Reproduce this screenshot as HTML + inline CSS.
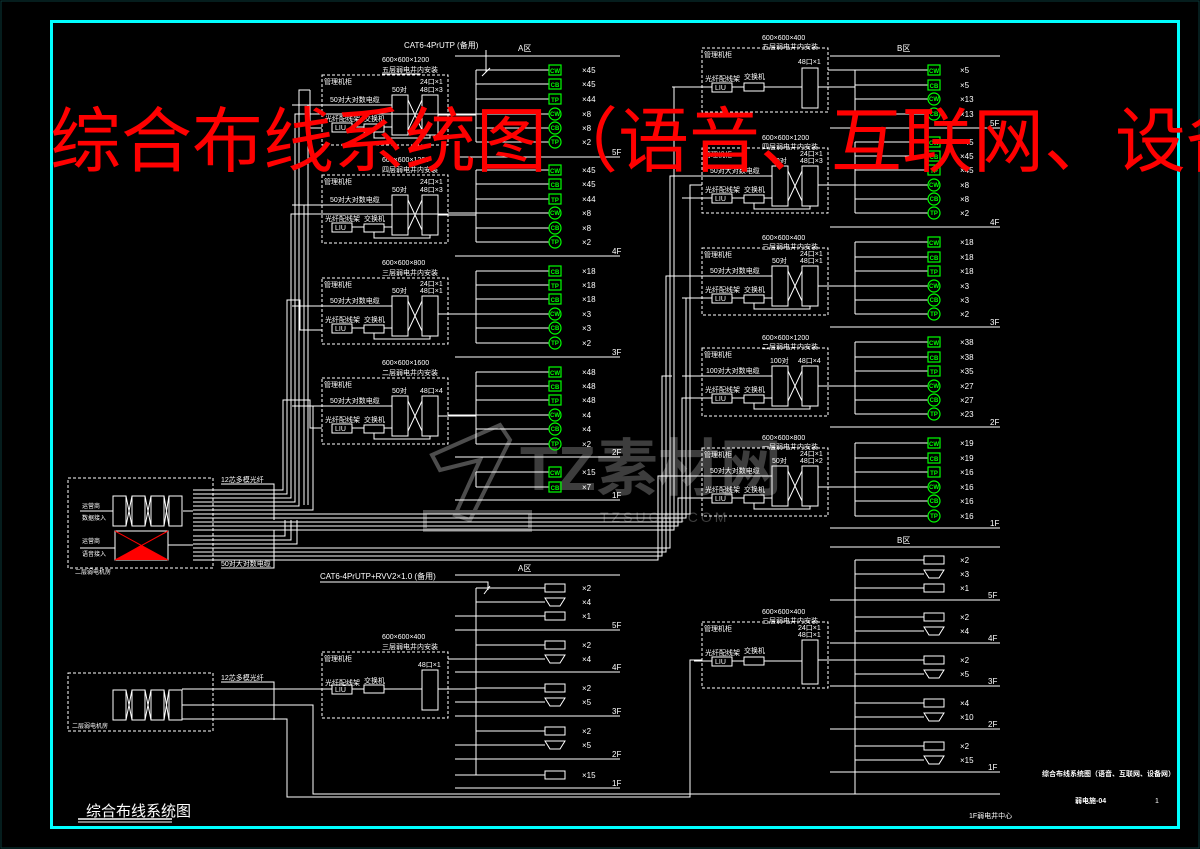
<!DOCTYPE html>
<html><head><meta charset="utf-8"><style>
html,body{margin:0;padding:0;background:#000;}
svg{display:block}
text{font-family:"Liberation Sans","Noto Sans CJK SC",sans-serif;fill:#fff;font-size:8px}
.l{stroke:#fff;stroke-width:1;fill:none}
.d{stroke:#fff;stroke-width:1;fill:none;stroke-dasharray:3 2}
.gr{stroke:#0f0;stroke-width:1.2;fill:none}
.gt{fill:#0f0;font-size:6px;font-weight:bold}
</style></head><body>
<svg width="1200" height="849" viewBox="0 0 1200 849" xmlns="http://www.w3.org/2000/svg">
<rect x="0" y="0" width="1200" height="849" fill="#000"/>
<rect x="1" y="1" width="1198" height="847" fill="none" stroke="#0a3a3a" stroke-width="1"/>
<rect x="51.5" y="21.5" width="1127" height="806" fill="none" stroke="#0ff" stroke-width="3"/>

<!-- grey watermark -->
<g opacity="0.45">
<path d="M432 455 L500 425 L510 440 L470 520 L455 515 L480 460 L440 470 Z" fill="none" stroke="#aaa" stroke-width="4"/>
<rect x="425" y="512" width="105" height="18" fill="none" stroke="#aaa" stroke-width="4"/>
<text x="520" y="490" style="font-size:62px;fill:#888;font-weight:bold">TZ素材网</text>
<text x="600" y="522" style="font-size:14px;fill:#888;letter-spacing:3px">TZSUCAI.COM</text>
</g>

<!-- ===== A zone top ===== -->
<text x="404" y="48">CAT6-4PrUTP (备用)</text>
<text x="518" y="51">A区</text>
<line class="l" x1="455" y1="56" x2="620" y2="56"/>
<path class="l" d="M486 50 V72 M482 76 L490 68"/>
<!-- floor lines A -->
<g class="l">
<line x1="455" y1="157" x2="620" y2="157"/><line x1="455" y1="256" x2="620" y2="256"/>
<line x1="455" y1="357" x2="620" y2="357"/><line x1="455" y1="457" x2="620" y2="457"/>
<line x1="455" y1="500" x2="620" y2="500"/>
<line x1="476" y1="70" x2="476" y2="142"/><line x1="476" y1="170" x2="476" y2="242"/>
<line x1="476" y1="271" x2="476" y2="343"/><line x1="476" y1="372" x2="476" y2="444"/>
<line x1="476" y1="472" x2="476" y2="487"/>
</g>
<text x="612" y="155">5F</text><text x="612" y="254">4F</text><text x="612" y="355">3F</text><text x="612" y="455">2F</text><text x="612" y="498">1F</text>
<g class="l">
<line x1="476" y1="70" x2="549" y2="70"/><line x1="476" y1="84" x2="549" y2="84"/><line x1="476" y1="99" x2="549" y2="99"/><line x1="455" y1="114" x2="549" y2="114"/><line x1="476" y1="128" x2="549" y2="128"/><line x1="476" y1="142" x2="549" y2="142"/>
<line x1="476" y1="170" x2="549" y2="170"/><line x1="476" y1="184" x2="549" y2="184"/><line x1="476" y1="199" x2="549" y2="199"/><line x1="448" y1="213" x2="549" y2="213"/><line x1="476" y1="228" x2="549" y2="228"/><line x1="476" y1="242" x2="549" y2="242"/>
<line x1="476" y1="271" x2="549" y2="271"/><line x1="476" y1="285" x2="549" y2="285"/><line x1="476" y1="299" x2="549" y2="299"/><line x1="448" y1="314" x2="549" y2="314"/><line x1="476" y1="328" x2="549" y2="328"/><line x1="476" y1="343" x2="549" y2="343"/>
<line x1="476" y1="372" x2="549" y2="372"/><line x1="476" y1="386" x2="549" y2="386"/><line x1="476" y1="400" x2="549" y2="400"/><line x1="448" y1="415" x2="549" y2="415"/><line x1="476" y1="429" x2="549" y2="429"/><line x1="476" y1="444" x2="549" y2="444"/>
<line x1="476" y1="472" x2="549" y2="472"/><line x1="476" y1="487" x2="549" y2="487"/>
</g>
<!-- A icons -->
<g class="gr">
<rect x="549" y="65" width="12" height="10"/><rect x="549" y="79" width="12" height="10"/><rect x="549" y="94" width="12" height="10"/><circle cx="555" cy="114" r="6"/><circle cx="555" cy="128" r="6"/><circle cx="555" cy="142" r="6"/>
<rect x="549" y="165" width="12" height="10"/><rect x="549" y="179" width="12" height="10"/><rect x="549" y="194" width="12" height="10"/><circle cx="555" cy="213" r="6"/><circle cx="555" cy="228" r="6"/><circle cx="555" cy="242" r="6"/>
<rect x="549" y="266" width="12" height="10"/><rect x="549" y="280" width="12" height="10"/><rect x="549" y="294" width="12" height="10"/><circle cx="555" cy="314" r="6"/><circle cx="555" cy="328" r="6"/><circle cx="555" cy="343" r="6"/>
<rect x="549" y="367" width="12" height="10"/><rect x="549" y="381" width="12" height="10"/><rect x="549" y="395" width="12" height="10"/><circle cx="555" cy="415" r="6"/><circle cx="555" cy="429" r="6"/><circle cx="555" cy="444" r="6"/>
<rect x="549" y="467" width="12" height="10"/><rect x="549" y="482" width="12" height="10"/>
</g>
<g class="gt" text-anchor="middle">
<text class="gt" x="555" y="73">CW</text><text class="gt" x="555" y="87">CB</text><text class="gt" x="555" y="102">TP</text><text class="gt" x="555" y="116">CW</text><text class="gt" x="555" y="130">CB</text><text class="gt" x="555" y="144">TP</text>
<text class="gt" x="555" y="173">CW</text><text class="gt" x="555" y="187">CB</text><text class="gt" x="555" y="202">TP</text><text class="gt" x="555" y="215">CW</text><text class="gt" x="555" y="230">CB</text><text class="gt" x="555" y="244">TP</text>
<text class="gt" x="555" y="274">CB</text><text class="gt" x="555" y="288">TP</text><text class="gt" x="555" y="302">CB</text><text class="gt" x="555" y="316">CW</text><text class="gt" x="555" y="330">CB</text><text class="gt" x="555" y="345">TP</text>
<text class="gt" x="555" y="375">CW</text><text class="gt" x="555" y="389">CB</text><text class="gt" x="555" y="403">TP</text><text class="gt" x="555" y="417">CW</text><text class="gt" x="555" y="431">CB</text><text class="gt" x="555" y="446">TP</text>
<text class="gt" x="555" y="475">CW</text><text class="gt" x="555" y="490">CB</text>
</g>
<g>
<text x="582" y="73">×45</text><text x="582" y="87">×45</text><text x="582" y="102">×44</text><text x="582" y="117">×8</text><text x="582" y="131">×8</text><text x="582" y="145">×2</text>
<text x="582" y="173">×45</text><text x="582" y="187">×45</text><text x="582" y="202">×44</text><text x="582" y="216">×8</text><text x="582" y="231">×8</text><text x="582" y="245">×2</text>
<text x="582" y="274">×18</text><text x="582" y="288">×18</text><text x="582" y="302">×18</text><text x="582" y="317">×3</text><text x="582" y="331">×3</text><text x="582" y="346">×2</text>
<text x="582" y="375">×48</text><text x="582" y="389">×48</text><text x="582" y="403">×48</text><text x="582" y="418">×4</text><text x="582" y="432">×4</text><text x="582" y="447">×2</text>
<text x="582" y="475">×15</text><text x="582" y="490">×7</text>
</g>

<!-- ===== B zone top ===== -->
<text x="897" y="51">B区</text>
<line class="l" x1="830" y1="56" x2="1000" y2="56"/>
<g class="l">
<line x1="830" y1="128" x2="1000" y2="128"/><line x1="830" y1="227" x2="1000" y2="227"/><line x1="830" y1="327" x2="1000" y2="327"/><line x1="830" y1="427" x2="1000" y2="427"/><line x1="830" y1="528" x2="1000" y2="528"/>
<line x1="855" y1="70" x2="855" y2="114"/><line x1="855" y1="142" x2="855" y2="213"/><line x1="855" y1="242" x2="855" y2="314"/><line x1="855" y1="342" x2="855" y2="414"/><line x1="855" y1="443" x2="855" y2="516"/>
</g>
<text x="990" y="126">5F</text><text x="990" y="225">4F</text><text x="990" y="325">3F</text><text x="990" y="425">2F</text><text x="990" y="526">1F</text>
<g class="l">
<line x1="828" y1="70" x2="928" y2="70"/><line x1="855" y1="85" x2="928" y2="85"/><line x1="855" y1="99" x2="928" y2="99"/><line x1="855" y1="114" x2="928" y2="114"/>
<line x1="855" y1="142" x2="928" y2="142"/><line x1="855" y1="156" x2="928" y2="156"/><line x1="855" y1="170" x2="928" y2="170"/><line x1="828" y1="185" x2="928" y2="185"/><line x1="855" y1="199" x2="928" y2="199"/><line x1="855" y1="213" x2="928" y2="213"/>
<line x1="855" y1="242" x2="928" y2="242"/><line x1="855" y1="257" x2="928" y2="257"/><line x1="855" y1="271" x2="928" y2="271"/><line x1="828" y1="286" x2="928" y2="286"/><line x1="855" y1="300" x2="928" y2="300"/><line x1="855" y1="314" x2="928" y2="314"/>
<line x1="855" y1="342" x2="928" y2="342"/><line x1="855" y1="357" x2="928" y2="357"/><line x1="855" y1="371" x2="928" y2="371"/><line x1="828" y1="386" x2="928" y2="386"/><line x1="855" y1="400" x2="928" y2="400"/><line x1="855" y1="414" x2="928" y2="414"/>
<line x1="855" y1="443" x2="928" y2="443"/><line x1="855" y1="458" x2="928" y2="458"/><line x1="855" y1="472" x2="928" y2="472"/><line x1="828" y1="487" x2="928" y2="487"/><line x1="855" y1="501" x2="928" y2="501"/><line x1="855" y1="516" x2="928" y2="516"/>
</g>
<g class="gr">
<rect x="928" y="65" width="12" height="10"/><rect x="928" y="80" width="12" height="10"/><circle cx="934" cy="99" r="6"/><circle cx="934" cy="114" r="6"/>
<rect x="928" y="137" width="12" height="10"/><rect x="928" y="151" width="12" height="10"/><rect x="928" y="165" width="12" height="10"/><circle cx="934" cy="185" r="6"/><circle cx="934" cy="199" r="6"/><circle cx="934" cy="213" r="6"/>
<rect x="928" y="237" width="12" height="10"/><rect x="928" y="252" width="12" height="10"/><rect x="928" y="266" width="12" height="10"/><circle cx="934" cy="286" r="6"/><circle cx="934" cy="300" r="6"/><circle cx="934" cy="314" r="6"/>
<rect x="928" y="337" width="12" height="10"/><rect x="928" y="352" width="12" height="10"/><rect x="928" y="366" width="12" height="10"/><circle cx="934" cy="386" r="6"/><circle cx="934" cy="400" r="6"/><circle cx="934" cy="414" r="6"/>
<rect x="928" y="438" width="12" height="10"/><rect x="928" y="453" width="12" height="10"/><rect x="928" y="467" width="12" height="10"/><circle cx="934" cy="487" r="6"/><circle cx="934" cy="501" r="6"/><circle cx="934" cy="516" r="6"/>
</g>
<g text-anchor="middle">
<text class="gt" x="934" y="73">CW</text><text class="gt" x="934" y="88">CB</text><text class="gt" x="934" y="101">CW</text><text class="gt" x="934" y="116">CB</text>
<text class="gt" x="934" y="145">CW</text><text class="gt" x="934" y="159">CB</text><text class="gt" x="934" y="173">TP</text><text class="gt" x="934" y="187">CW</text><text class="gt" x="934" y="201">CB</text><text class="gt" x="934" y="215">TP</text>
<text class="gt" x="934" y="245">CW</text><text class="gt" x="934" y="260">CB</text><text class="gt" x="934" y="274">TP</text><text class="gt" x="934" y="288">CW</text><text class="gt" x="934" y="302">CB</text><text class="gt" x="934" y="316">TP</text>
<text class="gt" x="934" y="345">CW</text><text class="gt" x="934" y="360">CB</text><text class="gt" x="934" y="374">TP</text><text class="gt" x="934" y="388">CW</text><text class="gt" x="934" y="402">CB</text><text class="gt" x="934" y="416">TP</text>
<text class="gt" x="934" y="446">CW</text><text class="gt" x="934" y="461">CB</text><text class="gt" x="934" y="475">TP</text><text class="gt" x="934" y="489">CW</text><text class="gt" x="934" y="503">CB</text><text class="gt" x="934" y="518">TP</text>
</g>
<g>
<text x="960" y="73">×5</text><text x="960" y="88">×5</text><text x="960" y="102">×13</text><text x="960" y="117">×13</text>
<text x="960" y="145">×45</text><text x="960" y="159">×45</text><text x="960" y="173">×45</text><text x="960" y="188">×8</text><text x="960" y="202">×8</text><text x="960" y="216">×2</text>
<text x="960" y="245">×18</text><text x="960" y="260">×18</text><text x="960" y="274">×18</text><text x="960" y="289">×3</text><text x="960" y="303">×3</text><text x="960" y="317">×2</text>
<text x="960" y="345">×38</text><text x="960" y="360">×38</text><text x="960" y="374">×35</text><text x="960" y="389">×27</text><text x="960" y="403">×27</text><text x="960" y="417">×23</text>
<text x="960" y="446">×19</text><text x="960" y="461">×19</text><text x="960" y="475">×16</text><text x="960" y="490">×16</text><text x="960" y="504">×16</text><text x="960" y="519">×16</text>
</g>

<!-- ===== Cabinets (A column x=322) ===== -->
<g id="cabs">
<!-- template drawn per cabinet -->
<g transform="translate(322,75)">
<rect class="d" x="0" y="0" width="126" height="70"/>
<text x="2" y="9" style="font-size:7px">管理机柜</text>
<text x="8" y="27" style="font-size:7px">50对大对数电缆</text><line class="l" x1="-30" y1="30" x2="70" y2="30"/>
<text x="3" y="46" style="font-size:7px">光纤配线架</text><rect class="l" x="10" y="48" width="20" height="9"/><text x="13" y="55" style="font-size:7px">LIU</text>
<text x="42" y="46" style="font-size:7px">交换机</text><rect class="l" x="42" y="49" width="20" height="8"/>
<text x="70" y="17" style="font-size:7px">50对</text><rect class="l" x="70" y="20" width="16" height="40"/>
<rect class="l" x="100" y="20" width="16" height="40"/><path class="l" d="M86 25 L100 55 M86 55 L100 25 M116 40 H154 M30 52 H42 M62 52 H70 M52 57 V63 H108 V60"/>
<text x="98" y="9" style="font-size:7px">24口×1</text><text x="98" y="17" style="font-size:7px">48口×3</text>
<text x="60" y="-13" style="font-size:7px">600×600×1200</text><text x="60" y="-3" style="font-size:7px">五层弱电井内安装</text><path class="l" d="M60 -1 H98 V0"/>
</g>
<g transform="translate(322,175)">
<rect class="d" x="0" y="0" width="126" height="68"/>
<text x="2" y="9" style="font-size:7px">管理机柜</text>
<text x="8" y="27" style="font-size:7px">50对大对数电缆</text><line class="l" x1="-30" y1="30" x2="70" y2="30"/>
<text x="3" y="46" style="font-size:7px">光纤配线架</text><rect class="l" x="10" y="48" width="20" height="9"/><text x="13" y="55" style="font-size:7px">LIU</text>
<text x="42" y="46" style="font-size:7px">交换机</text><rect class="l" x="42" y="49" width="20" height="8"/>
<text x="70" y="17" style="font-size:7px">50对</text><rect class="l" x="70" y="20" width="16" height="40"/>
<rect class="l" x="100" y="20" width="16" height="40"/><path class="l" d="M86 25 L100 55 M86 55 L100 25 M116 40 H154 M30 52 H42 M62 52 H70 M52 57 V63 H108 V60"/>
<text x="98" y="9" style="font-size:7px">24口×1</text><text x="98" y="17" style="font-size:7px">48口×3</text>
<text x="60" y="-13" style="font-size:7px">600×600×1200</text><text x="60" y="-3" style="font-size:7px">四层弱电井内安装</text>
</g>
<g transform="translate(322,278)">
<rect class="d" x="0" y="0" width="126" height="66"/>
<text x="2" y="9" style="font-size:7px">管理机柜</text>
<text x="8" y="25" style="font-size:7px">50对大对数电缆</text><line class="l" x1="-30" y1="28" x2="70" y2="28"/>
<text x="3" y="44" style="font-size:7px">光纤配线架</text><rect class="l" x="10" y="46" width="20" height="9"/><text x="13" y="53" style="font-size:7px">LIU</text>
<text x="42" y="44" style="font-size:7px">交换机</text><rect class="l" x="42" y="47" width="20" height="8"/>
<text x="70" y="15" style="font-size:7px">50对</text><rect class="l" x="70" y="18" width="16" height="40"/>
<rect class="l" x="100" y="18" width="16" height="40"/><path class="l" d="M86 23 L100 53 M86 53 L100 23 M116 36 H154 M30 50 H42 M62 50 H70 M52 55 V61 H108 V58"/>
<text x="98" y="8" style="font-size:7px">24口×1</text><text x="98" y="15" style="font-size:7px">48口×1</text>
<text x="60" y="-13" style="font-size:7px">600×600×800</text><text x="60" y="-3" style="font-size:7px">三层弱电井内安装</text>
</g>
<g transform="translate(322,378)">
<rect class="d" x="0" y="0" width="126" height="66"/>
<text x="2" y="9" style="font-size:7px">管理机柜</text>
<text x="8" y="25" style="font-size:7px">50对大对数电缆</text><line class="l" x1="-30" y1="28" x2="70" y2="28"/>
<text x="3" y="44" style="font-size:7px">光纤配线架</text><rect class="l" x="10" y="46" width="20" height="9"/><text x="13" y="53" style="font-size:7px">LIU</text>
<text x="42" y="44" style="font-size:7px">交换机</text><rect class="l" x="42" y="47" width="20" height="8"/>
<text x="70" y="15" style="font-size:7px">50对</text><rect class="l" x="70" y="18" width="16" height="40"/>
<rect class="l" x="100" y="18" width="16" height="40"/><path class="l" d="M86 23 L100 53 M86 53 L100 23 M116 38 H154 M30 50 H42 M62 50 H70 M52 55 V61 H108 V58"/>
<text x="98" y="15" style="font-size:7px">48口×4</text>
<text x="60" y="-13" style="font-size:7px">600×600×1600</text><text x="60" y="-3" style="font-size:7px">二层弱电井内安装</text>
</g>
<g transform="translate(322,652)">
<rect class="d" x="0" y="0" width="126" height="66"/>
<text x="2" y="9" style="font-size:7px">管理机柜</text>
<text x="3" y="33" style="font-size:7px">光纤配线架</text><rect class="l" x="10" y="33" width="20" height="9"/><text x="13" y="40" style="font-size:7px">LIU</text>
<text x="42" y="31" style="font-size:7px">交换机</text><rect class="l" x="42" y="33" width="20" height="8"/>
<rect class="l" x="100" y="18" width="16" height="40"/><path class="l" d="M30 37 H42 M62 37 H100 M116 37 H154"/>
<text x="96" y="15" style="font-size:7px">48口×1</text>
<text x="60" y="-13" style="font-size:7px">600×600×400</text><text x="60" y="-3" style="font-size:7px">三层弱电井内安装</text>
</g>
<!-- B column x=702 -->
<g transform="translate(702,48)">
<rect class="d" x="0" y="0" width="126" height="64"/>
<text x="2" y="9" style="font-size:7px">管理机柜</text>
<text x="3" y="33" style="font-size:7px">光纤配线架</text><rect class="l" x="10" y="35" width="20" height="9"/><text x="13" y="42" style="font-size:7px">LIU</text>
<text x="42" y="31" style="font-size:7px">交换机</text><rect class="l" x="42" y="35" width="20" height="8"/>
<rect class="l" x="100" y="20" width="16" height="40"/><path class="l" d="M-30 39 H10 M30 39 H42 M62 39 H100 M116 39 H126"/>
<text x="96" y="16" style="font-size:7px">48口×1</text>
<text x="60" y="-8" style="font-size:7px">600×600×400</text><text x="60" y="1" style="font-size:7px">五层弱电井内安装</text>
</g>
<g transform="translate(702,148)">
<rect class="d" x="0" y="0" width="126" height="65"/>
<text x="2" y="9" style="font-size:7px">管理机柜</text>
<text x="8" y="25" style="font-size:7px">50对大对数电缆</text><line class="l" x1="-30" y1="28" x2="70" y2="28"/>
<text x="3" y="44" style="font-size:7px">光纤配线架</text><rect class="l" x="10" y="46" width="20" height="9"/><text x="13" y="53" style="font-size:7px">LIU</text>
<text x="42" y="44" style="font-size:7px">交换机</text><rect class="l" x="42" y="47" width="20" height="8"/>
<text x="70" y="15" style="font-size:7px">50对</text><rect class="l" x="70" y="18" width="16" height="40"/>
<rect class="l" x="100" y="18" width="16" height="40"/><path class="l" d="M86 23 L100 53 M86 53 L100 23 M116 37 H126 M30 50 H42 M62 50 H70 M52 55 V61 H108 V58 M-20 50 H10"/>
<text x="98" y="8" style="font-size:7px">24口×1</text><text x="98" y="15" style="font-size:7px">48口×3</text>
<text x="60" y="-8" style="font-size:7px">600×600×1200</text><text x="60" y="1" style="font-size:7px">四层弱电井内安装</text>
</g>
<g transform="translate(702,248)">
<rect class="d" x="0" y="0" width="126" height="67"/>
<text x="2" y="9" style="font-size:7px">管理机柜</text>
<text x="8" y="25" style="font-size:7px">50对大对数电缆</text><line class="l" x1="-30" y1="28" x2="70" y2="28"/>
<text x="3" y="44" style="font-size:7px">光纤配线架</text><rect class="l" x="10" y="46" width="20" height="9"/><text x="13" y="53" style="font-size:7px">LIU</text>
<text x="42" y="44" style="font-size:7px">交换机</text><rect class="l" x="42" y="47" width="20" height="8"/>
<text x="70" y="15" style="font-size:7px">50对</text><rect class="l" x="70" y="18" width="16" height="40"/>
<rect class="l" x="100" y="18" width="16" height="40"/><path class="l" d="M86 23 L100 53 M86 53 L100 23 M116 38 H126 M30 50 H42 M62 50 H70 M52 55 V61 H108 V58 M-20 50 H10"/>
<text x="98" y="8" style="font-size:7px">24口×1</text><text x="98" y="15" style="font-size:7px">48口×1</text>
<text x="60" y="-8" style="font-size:7px">600×600×400</text><text x="60" y="1" style="font-size:7px">三层弱电井内安装</text>
</g>
<g transform="translate(702,348)">
<rect class="d" x="0" y="0" width="126" height="68"/>
<text x="2" y="9" style="font-size:7px">管理机柜</text>
<text x="4" y="25" style="font-size:7px">100对大对数电缆</text><line class="l" x1="-20" y1="28" x2="70" y2="28"/>
<text x="3" y="44" style="font-size:7px">光纤配线架</text><rect class="l" x="10" y="46" width="20" height="9"/><text x="13" y="53" style="font-size:7px">LIU</text>
<text x="42" y="44" style="font-size:7px">交换机</text><rect class="l" x="42" y="47" width="20" height="8"/>
<text x="68" y="15" style="font-size:7px">100对</text><rect class="l" x="70" y="18" width="16" height="40"/>
<rect class="l" x="100" y="18" width="16" height="40"/><path class="l" d="M86 23 L100 53 M86 53 L100 23 M116 38 H126 M30 50 H42 M62 50 H70 M52 55 V61 H108 V58 M-20 50 H10"/>
<text x="96" y="15" style="font-size:7px">48口×4</text>
<text x="60" y="-8" style="font-size:7px">600×600×1200</text><text x="60" y="1" style="font-size:7px">二层弱电井内安装</text>
</g>
<g transform="translate(702,448)">
<rect class="d" x="0" y="0" width="126" height="68"/>
<text x="2" y="9" style="font-size:7px">管理机柜</text>
<text x="8" y="25" style="font-size:7px">50对大对数电缆</text><line class="l" x1="-30" y1="28" x2="70" y2="28"/>
<text x="3" y="44" style="font-size:7px">光纤配线架</text><rect class="l" x="10" y="46" width="20" height="9"/><text x="13" y="53" style="font-size:7px">LIU</text>
<text x="42" y="44" style="font-size:7px">交换机</text><rect class="l" x="42" y="47" width="20" height="8"/>
<text x="70" y="15" style="font-size:7px">50对</text><rect class="l" x="70" y="18" width="16" height="40"/>
<rect class="l" x="100" y="18" width="16" height="40"/><path class="l" d="M86 23 L100 53 M86 53 L100 23 M116 39 H126 M30 50 H42 M62 50 H70 M52 55 V61 H108 V58 M-20 50 H10"/>
<text x="98" y="8" style="font-size:7px">24口×1</text><text x="98" y="15" style="font-size:7px">48口×2</text>
<text x="60" y="-8" style="font-size:7px">600×600×800</text><text x="60" y="1" style="font-size:7px">一层弱电井内安装</text>
</g>
<g transform="translate(702,622)">
<rect class="d" x="0" y="0" width="126" height="66"/>
<text x="2" y="9" style="font-size:7px">管理机柜</text>
<text x="3" y="33" style="font-size:7px">光纤配线架</text><rect class="l" x="10" y="35" width="20" height="9"/><text x="13" y="42" style="font-size:7px">LIU</text>
<text x="42" y="31" style="font-size:7px">交换机</text><rect class="l" x="42" y="35" width="20" height="8"/>
<rect class="l" x="100" y="18" width="16" height="44"/><path class="l" d="M-8 39 H10 M30 39 H42 M62 39 H100 M116 38 H126"/>
<text x="96" y="8" style="font-size:7px">24口×1</text><text x="96" y="15" style="font-size:7px">48口×1</text>
<text x="60" y="-8" style="font-size:7px">600×600×400</text><text x="60" y="1" style="font-size:7px">三层弱电井内安装</text>
</g>
</g>
<!-- connect B cabinets to bus -->
<g class="l"><line x1="828" y1="87" x2="855" y2="87"/><line x1="828" y1="660" x2="855" y2="660"/></g>

<!-- ===== main equipment left ===== -->
<rect class="d" x="68" y="478" width="145" height="90"/>
<text x="82" y="508" style="font-size:6px">运营商</text><text x="82" y="520" style="font-size:6px">数据接入</text>
<text x="82" y="543" style="font-size:6px">运营商</text><text x="82" y="556" style="font-size:6px">语音接入</text>
<text x="75" y="574" style="font-size:6px">二层弱电机房</text>
<path class="l" d="M80 511 H113 M80 548 H115 M183 511 H193 M168 545 H193"/>
<g class="l"><rect x="113" y="496" width="13" height="30"/><rect x="132" y="496" width="13" height="30"/><rect x="151" y="496" width="13" height="30"/><rect x="169" y="496" width="13" height="30"/>
<path d="M126 496 L132 526 M126 526 L132 496 M145 496 L151 526 M145 526 L151 496 M164 496 L169 526 M164 526 L169 496"/></g>
<rect x="115" y="531" width="53" height="29" fill="none" stroke="#fff"/>
<path d="M115 560 L141 545 L168 560 Z" fill="#f00"/><path d="M115 531 L168 560 M168 531 L115 560" stroke="#f00" stroke-width="1"/>
<text x="221" y="482" style="font-size:7px">12芯多模光纤</text><path class="l" d="M221 484 H274 V520"/>
<text x="221" y="566" style="font-size:7px">50对大对数电缆</text><path class="l" d="M221 568 H274 V530"/>
<!-- bundles -->
<g class="l">
<path d="M193 490 H283 V400 H300"/>
<path d="M193 494 H287 V300 H296"/>
<path d="M193 498 H291 V214 H448"/>
<path d="M193 502 H295 V114 H455"/>
<path d="M193 506 H299 V90 H310"/>
<path d="M193 510 H313 V480"/>
<path d="M193 514 H690 V185 H702"/>
<path d="M193 518 H686 V298 H702"/>
<path d="M193 522 H682 V398 H702"/>
<path d="M193 526 H678 V498 H702"/>
<path d="M193 530 H674 V87 H672"/>
<path d="M193 536 H285 V520"/>
<path d="M193 540 H291 V520"/>
<path d="M193 544 H297 V520"/>
<path d="M193 548 H670 V176 H672"/>
<path d="M193 552 H666 V276 H672"/>
<path d="M193 556 H662 V376 H672"/>
<path d="M193 560 H658 V476 H672"/>
<path d="M300 400 H310 V428 H322 M296 300 H300 V330 H322"/>
<path d="M310 90 V128 H322"/>
<path d="M308 105 H322 M304 205 H322 M304 205 V505 M308 105 V505"/>
<path d="M313 480 V406 H292"/>
</g>

<!-- lower main -->
<rect class="d" x="68" y="673" width="145" height="58"/>
<text x="72" y="728" style="font-size:6px">二层弱电机房</text>
<g class="l"><rect x="113" y="690" width="13" height="30"/><rect x="132" y="690" width="13" height="30"/><rect x="151" y="690" width="13" height="30"/><rect x="169" y="690" width="13" height="30"/>
<path d="M126 690 L132 720 M126 720 L132 690 M145 690 L151 720 M145 720 L151 690 M164 690 L169 720 M164 720 L169 690"/></g>
<text x="221" y="680" style="font-size:7px">12芯多模光纤</text><path class="l" d="M221 682 H274 V720"/>
<path class="l" d="M182 689 H332 M182 705 H313 V794 H1000 M182 719 H287 V797 H690 V660 H702"/>
<path class="l" d="M313 794 H700"/>

<!-- ===== A camera zone ===== -->
<text x="320" y="579">CAT6-4PrUTP+RVV2×1.0 (备用)</text><path class="l" d="M320 582 H488 V590 M484 594 L490 586"/>
<text x="518" y="571">A区</text><line class="l" x1="455" y1="575" x2="620" y2="575"/>
<line class="l" x1="476" y1="588" x2="476" y2="775"/>
<g class="l">
<line x1="455" y1="630" x2="620" y2="630"/><line x1="455" y1="672" x2="620" y2="672"/><line x1="455" y1="716" x2="620" y2="716"/><line x1="455" y1="759" x2="620" y2="759"/><line x1="455" y1="788" x2="620" y2="788"/>
<line x1="476" y1="588" x2="545" y2="588"/><line x1="476" y1="602" x2="545" y2="602"/><line x1="455" y1="616" x2="545" y2="616"/>
<line x1="476" y1="645" x2="545" y2="645"/><line x1="448" y1="659" x2="545" y2="659"/>
<line x1="476" y1="688" x2="545" y2="688"/><line x1="455" y1="702" x2="545" y2="702"/>
<line x1="476" y1="731" x2="545" y2="731"/><line x1="455" y1="745" x2="545" y2="745"/>
<line x1="455" y1="775" x2="545" y2="775"/>
</g>
<text x="612" y="628">5F</text><text x="612" y="670">4F</text><text x="612" y="714">3F</text><text x="612" y="757">2F</text><text x="612" y="786">1F</text>
<g class="l">
<rect x="545" y="584" width="20" height="8"/><path d="M545 598 H565 L560 606 H550 Z"/><rect x="545" y="612" width="20" height="8"/>
<rect x="545" y="641" width="20" height="8"/><path d="M545 655 H565 L560 663 H550 Z"/>
<rect x="545" y="684" width="20" height="8"/><path d="M545 698 H565 L560 706 H550 Z"/>
<rect x="545" y="727" width="20" height="8"/><path d="M545 741 H565 L560 749 H550 Z"/>
<rect x="545" y="771" width="20" height="8"/>
</g>
<g><text x="582" y="591">×2</text><text x="582" y="605">×4</text><text x="582" y="619">×1</text><text x="582" y="648">×2</text><text x="582" y="662">×4</text><text x="582" y="691">×2</text><text x="582" y="705">×5</text><text x="582" y="734">×2</text><text x="582" y="748">×5</text><text x="582" y="778">×15</text></g>

<!-- ===== B camera zone ===== -->
<text x="897" y="543">B区</text><line class="l" x1="830" y1="547" x2="1000" y2="547"/>
<line class="l" x1="855" y1="560" x2="855" y2="794"/>
<g class="l">
<line x1="830" y1="600" x2="1000" y2="600"/><line x1="830" y1="643" x2="1000" y2="643"/><line x1="830" y1="686" x2="1000" y2="686"/><line x1="830" y1="729" x2="1000" y2="729"/><line x1="830" y1="772" x2="1000" y2="772"/>
<line x1="855" y1="560" x2="924" y2="560"/><line x1="855" y1="574" x2="924" y2="574"/><line x1="855" y1="588" x2="924" y2="588"/>
<line x1="855" y1="617" x2="924" y2="617"/><line x1="855" y1="631" x2="924" y2="631"/>
<line x1="855" y1="660" x2="924" y2="660"/><line x1="855" y1="674" x2="924" y2="674"/>
<line x1="855" y1="703" x2="924" y2="703"/><line x1="855" y1="717" x2="924" y2="717"/>
<line x1="855" y1="746" x2="924" y2="746"/><line x1="855" y1="760" x2="924" y2="760"/>
</g>
<text x="988" y="598">5F</text><text x="988" y="641">4F</text><text x="988" y="684">3F</text><text x="988" y="727">2F</text><text x="988" y="770">1F</text>
<g class="l">
<rect x="924" y="556" width="20" height="8"/><path d="M924 570 H944 L939 578 H929 Z"/><rect x="924" y="584" width="20" height="8"/>
<rect x="924" y="613" width="20" height="8"/><path d="M924 627 H944 L939 635 H929 Z"/>
<rect x="924" y="656" width="20" height="8"/><path d="M924 670 H944 L939 678 H929 Z"/>
<rect x="924" y="699" width="20" height="8"/><path d="M924 713 H944 L939 721 H929 Z"/>
<rect x="924" y="742" width="20" height="8"/><path d="M924 756 H944 L939 764 H929 Z"/>
</g>
<g><text x="960" y="563">×2</text><text x="960" y="577">×3</text><text x="960" y="591">×1</text><text x="960" y="620">×2</text><text x="960" y="634">×4</text><text x="960" y="663">×2</text><text x="960" y="677">×5</text><text x="960" y="706">×4</text><text x="960" y="720">×10</text><text x="960" y="749">×2</text><text x="960" y="763">×15</text></g>

<!-- titles -->
<text x="969" y="818" style="font-size:7px">1F弱电井中心</text>
<text x="1042" y="776" style="font-size:7px;font-weight:bold">综合布线系统图（语音、互联网、设备网）</text>
<text x="1075" y="803" style="font-size:7px;font-weight:bold">弱电施-04</text>
<text x="1155" y="803" style="font-size:7px">1</text>
<text x="86" y="816" style="font-size:15px">综合布线系统图</text>
<line x1="78" y1="819" x2="172" y2="819" stroke="#fff" stroke-width="1.5"/><line x1="78" y1="822" x2="172" y2="822" stroke="#fff" stroke-width="1"/>

<!-- red watermark title -->
<text x="50" y="166" style="font-size:71px;fill:#f00;font-family:'Noto Sans CJK SC','WenQuanYi Zen Hei',sans-serif">综合布线系统图（语音、互联网、设备网）</text>
</svg>
</body></html>
